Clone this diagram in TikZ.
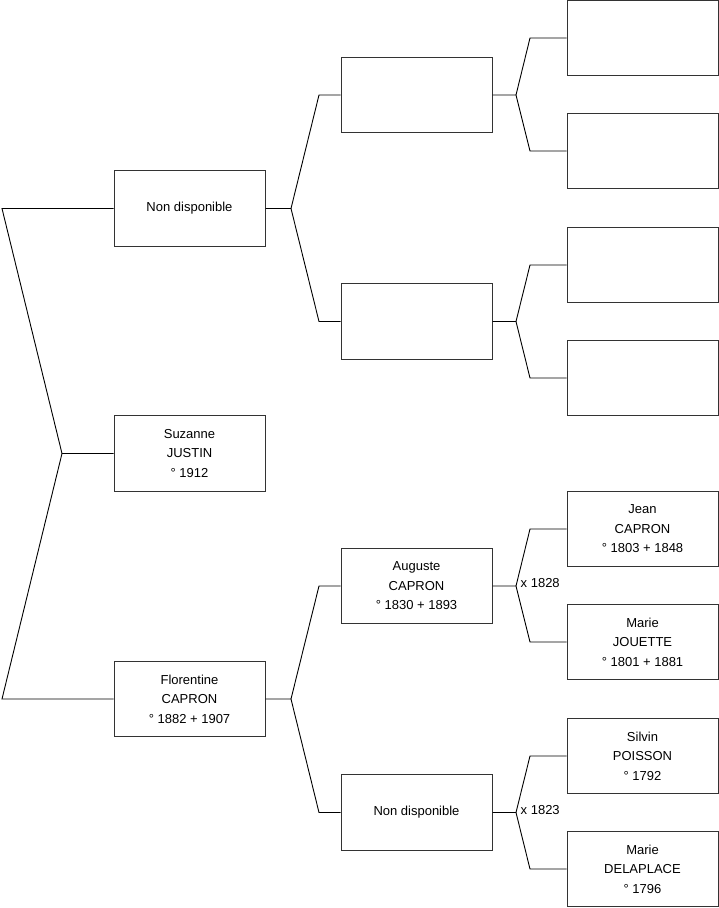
\documentclass[tikz,border=0pt]{standalone}
\usepackage{fontspec}
\setmainfont{Liberation Sans}
\begin{document}
\begin{tikzpicture}[x=1pt,y=-1pt,
  person/.style={draw=black!80,line width=1pt,minimum width=151pt,minimum height=75.5pt,inner sep=0pt,align=center,font=\fontsize{13}{19.5}\selectfont},
  link/.style={draw=black,line width=0.9pt},
  marr/.style={anchor=west,inner sep=0pt,font=\fontsize{13}{15}\selectfont}]
\useasboundingbox (0,0) rectangle (719,908);
% generation 1
\node[person] (f) at (189.5,208.5) {Non disponible};
\node[person] (s) at (189.5,453.5) {Suzanne\\JUSTIN\\° 1912};
\node[person] (m) at (189.5,699) {Florentine\\CAPRON\\° 1882 + 1907};
% generation 2
\node[person] (ff) at (416.5,95) {};
\node[person] (fm) at (416.5,321.5) {};
\node[person] (mf) at (416.5,586) {Auguste\\CAPRON\\° 1830 + 1893};
\node[person] (mm) at (416.5,812.5) {Non disponible};
% generation 3
\node[person] (fff) at (642.5,38) {};
\node[person] (ffm) at (642.5,151) {};
\node[person] (fmf) at (642.5,265) {};
\node[person] (fmm) at (642.5,378) {};
\node[person] (mff) at (642.5,529) {Jean\\CAPRON\\° 1803 + 1848};
\node[person] (mfm) at (642.5,642) {Marie\\JOUETTE\\° 1801 + 1881};
\node[person] (mmf) at (642.5,756) {Silvin\\POISSON\\° 1792};
\node[person] (mmm) at (642.5,869) {Marie\\DELAPLACE\\° 1796};
% fork points
\coordinate (js) at (62,453.5);
\coordinate (jf) at (291,208.5);
\coordinate (jm) at (291,699);
\coordinate (jff) at (516,95);
\coordinate (jfm) at (516,321.5);
\coordinate (jmf) at (516,586);
\coordinate (jmm) at (516,812.5);
% connectors
\draw[link] (s.west) -- (js) -- (2,208.5) -- (f.west);
\draw[link] (js) -- (2,699) -- (m.west);
\draw[link] (f.east) -- (jf) -- (319,95) -- (ff.west);
\draw[link] (jf) -- (319,321.5) -- (fm.west);
\draw[link] (m.east) -- (jm) -- (319,586) -- (mf.west);
\draw[link] (jm) -- (319,812.5) -- (mm.west);
\draw[link] (ff.east) -- (jff) -- (530,38) -- (fff.west);
\draw[link] (jff) -- (530,151) -- (ffm.west);
\draw[link] (fm.east) -- (jfm) -- (530,265) -- (fmf.west);
\draw[link] (jfm) -- (530,378) -- (fmm.west);
\draw[link] (mf.east) -- (jmf) -- (530,529) -- (mff.west);
\draw[link] (jmf) -- (530,642) -- (mfm.west);
\draw[link] (mm.east) -- (jmm) -- (530,756) -- (mmf.west);
\draw[link] (jmm) -- (530,869) -- (mmm.west);
% marriage labels
\node[marr] (x1) at (520.5,583) {x 1828};
\node[marr] (x2) at (520.5,810) {x 1823};
\end{tikzpicture}
\end{document}
